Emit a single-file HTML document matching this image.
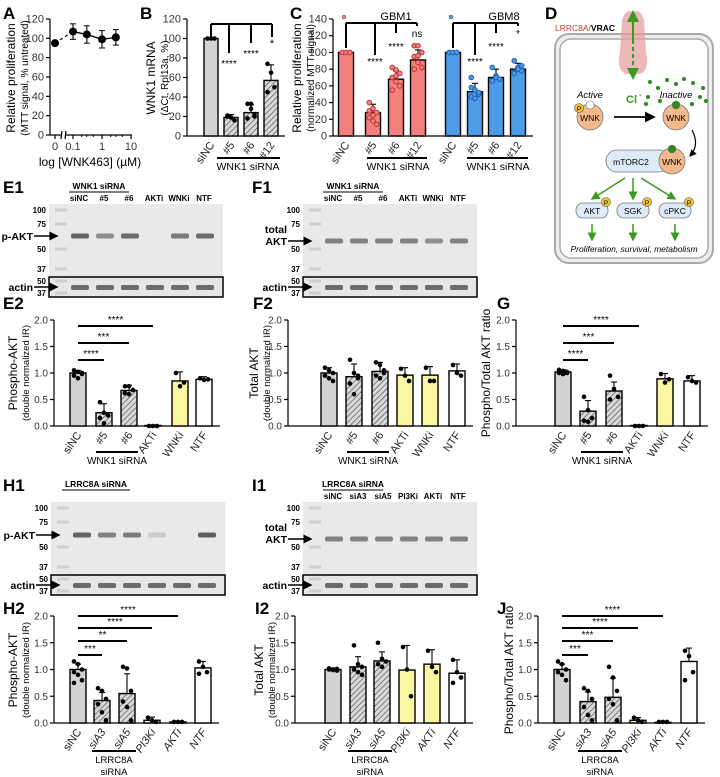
<!DOCTYPE html>
<html><head><meta charset="utf-8">
<style>
html,body{margin:0;padding:0;background:#fff;}
svg{display:block;font-family:"Liberation Sans",Arial,sans-serif;}
</style></head>
<body>
<svg id="fig" width="720" height="777" viewBox="0 0 720 777" xmlns="http://www.w3.org/2000/svg">
<defs>
<pattern id="hatch" patternUnits="userSpaceOnUse" width="4" height="4" patternTransform="rotate(45)">
<rect width="4" height="4" fill="#d9d9d9"/><line x1="0" y1="0" x2="0" y2="4" stroke="#555" stroke-width="1.4"/>
</pattern>
<marker id="ah" markerWidth="6" markerHeight="6" refX="5" refY="3" orient="auto"><path d="M0,0 L6,3 L0,6 z" fill="#000"/></marker>
<marker id="gh" markerWidth="6" markerHeight="6" refX="5" refY="3" orient="auto"><path d="M0,0 L6,3 L0,6 z" fill="#3a9a1e"/></marker>
</defs>
<g id="root"></g>
</svg>
<script>
// ---------- DATA ----------
// Panel A
const aConc = [0, 0.1, 0.3, 1, 3];
const aVals = [95, 107, 104, 99, 101];
const aErr = [0, 8, 9, 9, 8];
const aYTicks = [0, 20, 40, 60, 80, 100, 120];
// Panel B
const bCats = ["siNC", "#5", "#6", "#12"];
const bVals = [100, 19, 24, 57];
const bErr = [1, 3, 8, 16];
const bDots = [[100,100,100], [21,19,16,20], [33,33,22,18,28,20], [74,65,50,45]];
const bTicks = [0, 20, 40, 60, 80, 100, 120];
// Panel C
const cCats = ["siNC", "#5", "#6", "#12", "siNC", "#5", "#6", "#12"];
const cVals = [100, 28, 68, 91, 100, 53, 70, 80];
const cErr = [1, 10, 10, 12, 1, 10, 10, 7];
const cDots = [[100,100,100],[40,33,28,22,18,14,30,25],[82,79,75,70,65,60,55,72],[108,108,100,95,88,82,80,96],[100,100,100],[70,55,50,47,45,52,58],[82,72,68,66,70,68],[90,82,78,76,80,84,75]];
const cTicks = [0, 20, 40, 60, 80, 100, 120, 140];
// Panel E2
const e2Cats = ["siNC", "#5", "#6", "AKTi", "WNKi", "NTF"];
const e2Vals = [1.0, 0.25, 0.67, 0.01, 0.85, 0.88];
const e2Err = [0.05, 0.17, 0.1, 0.01, 0.17, 0.05];
const e2Dots = [[1.05,1.02,0.98,0.95,0.9,1.0],[0.45,0.25,0.2,0.15,0.05],[0.75,0.75,0.68,0.62,0.6],[0,0,0],[1.0,0.75,0.82],[0.9,0.87,0.88]];
// Panel F2
const f2Vals = [1.0, 0.93, 1.03, 0.96, 0.96, 1.04];
const f2Err = [0.1, 0.24, 0.17, 0.14, 0.16, 0.13];
const f2Dots = [[1.1,1.05,1.0,0.95,0.9,0.85],[1.25,1.0,0.9,0.8,0.6,0.95],[1.2,1.15,1.05,0.95,0.9,1.0],[1.08,0.95,0.85],[1.1,0.85,0.85],[1.15,1.0,0.95]];
// Panel G
const gVals = [1.02, 0.28, 0.66, 0.01, 0.89, 0.85];
const gErr = [0.04, 0.2, 0.17, 0.01, 0.1, 0.1];
const gDots = [[1.06,1.04,1.02,1.0,0.98,1.0],[0.55,0.3,0.15,0.1,0.08],[0.95,0.7,0.55,0.5],[0,0,0],[0.98,0.82,0.88],[0.92,0.85,0.82]];
// Panel H2
const h2Cats = ["siNC", "siA3", "siA5", "PI3Ki", "AKTi", "NTF"];
const h2Vals = [1.0, 0.42, 0.55, 0.05, 0.02, 1.03];
const h2Err = [0.1, 0.15, 0.37, 0.06, 0.01, 0.12];
const h2Dots = [[1.15,1.1,1.0,0.95,0.9,0.8,0.75],[0.65,0.6,0.45,0.35,0.2,0.05],[1.05,1.02,0.6,0.4,0.3,0.05],[0.1,0.05,0.02],[0.02,0.02,0.02],[1.15,1.05,0.95,0.92]];
// Panel I2
const i2Vals = [1.0, 1.05, 1.16, 0.99, 1.1, 0.93];
const i2Err = [0.03, 0.19, 0.17, 0.46, 0.27, 0.25];
const i2Dots = [[1.02,1.0,0.98,1.0,0.99,1.01],[1.45,1.1,1.05,1.0,0.95,0.9],[1.5,1.2,1.15,1.1,1.05],[1.42,1.0,0.5],[1.35,1.05,0.95],[1.18,0.95,0.85,0.75]];
// Panel J
const jVals = [1.0, 0.4, 0.48, 0.05, 0.01, 1.15];
const jErr = [0.1, 0.18, 0.36, 0.05, 0.01, 0.25];
const jDots = [[1.15,1.1,1.0,0.95,0.9,0.8],[0.65,0.6,0.45,0.3,0.15,0.05],[1.05,0.85,0.6,0.45,0.35,0.05],[0.1,0.05,0.02],[0.02,0.02,0.02],[1.35,1.25,0.95,0.8]];
const unitTicks = [0, 0.5, 1.0, 1.5, 2.0];

// ---------- HELPERS ----------
const NS = "http://www.w3.org/2000/svg";
const root = document.getElementById("root");
function mk(tag, attrs, parent, txt) {
  const e = document.createElementNS(NS, tag);
  for (const k in attrs) e.setAttribute(k, attrs[k]);
  if (txt !== undefined) e.textContent = txt;
  (parent || root).appendChild(e);
  return e;
}
function grp(name) {
  const g = mk("g", {});
  
  
  return g;
}
function label(g, x, y, s, size, opts) {
  opts = opts || {};
  const t = mk("text", {x: x, y: y, "font-size": size, "text-anchor": opts.anchor || "start", fill: opts.fill || "#000", "font-weight": opts.bold ? "bold" : "normal", "font-style": opts.italic ? "italic" : "normal"}, g, s);
  if (opts.rot) t.setAttribute("transform", "rotate(" + opts.rot + " " + x + " " + y + ")");
  
  
  return t;
}
function line(g, x1, y1, x2, y2, w, col) {
  return mk("line", {x1: x1, y1: y1, x2: x2, y2: y2, stroke: col || "#000", "stroke-width": w || 1}, g);
}
function yAxis(g, ax, y0, yTop, max, ticks, fmt, fs) {
  line(g, ax, y0, ax, yTop, 1.2);
  ticks.forEach(t => {
    const y = y0 - t / max * (y0 - yTop);
    line(g, ax - 4, y, ax, y, 1.2);
    label(g, ax - 6, y + 3.5, fmt(t), fs || 10.5, {anchor: "end", fill: "#333", name: 'y-tick-label'});
  });
}
function barChart(name, o) {
  const g = grp(name);
  const ys = v => o.y0 - v / o.max * (o.y0 - o.yTop);
  yAxis(g, o.ax, o.y0, o.yTop, o.max, o.ticks, o.fmt, o.fs);
  line(g, o.ax, o.y0, o.xs[o.xs.length - 1] + o.w, o.y0, 1.2);
  o.vals.forEach((v, i) => {
    const x = o.xs[i];
    const b = mk("rect", {x: x - o.w / 2, y: ys(v), width: o.w, height: Math.max(o.y0 - ys(v), 0.5), fill: o.fills[i], stroke: "#000", "stroke-width": 1.4}, g);
    
    
    const e = o.errs[i];
    line(g, x, ys(v), x, ys(v + e), 1.1);
    line(g, x - 3, ys(v + e), x + 3, ys(v + e), 1.1);
    (o.dots[i] || []).forEach((d, k) => {
      const dx = ((k % 3) - 1) * o.w * 0.25;
      const c = mk("circle", {cx: x + dx, cy: ys(d), r: 2.3, fill: o.dotFill ? o.dotFill[i] : "#000", stroke: o.dotStroke ? o.dotStroke[i] : "none", "stroke-width": 1}, g);
      
      
    });
    if (o.cats) label(g, x + 4, o.y0 + 9, o.cats[i], o.cfs || 11, {anchor: "end", rot: -55, italic: o.italicCats && o.italicCats[i], fill: "#222", name: 'x-tick-label'});
  });
  return {g: g, ys: ys};
}
function sigBar(g, x1, x2, y, stars) {
  line(g, x1, y, x2, y, 2);
  label(g, (x1 + x2) / 2, y - 3, stars, 10, {anchor: "middle", name: 'significance'});
}
const f1 = v => v.toFixed(1);
const f0 = v => String(v);

// ---------- PANEL A ----------
(function () {
  const g = grp("panel-a");
  label(g, 3, 19, "A", 17, {bold: true, name: 'panel-label'});
  const y0 = 135, yTop = 19, max = 120;
  const ys = v => y0 - v / max * (y0 - yTop);
  const xs = c => c === 0 ? 55 : 102 + 29 * Math.log10(c);
  yAxis(g, 50, y0, yTop, max, aYTicks, f0, 11);
  line(g, 50, y0, 61, y0, 1.2); line(g, 66, y0, 132, y0, 1.2);
  line(g, 61, y0 + 4, 62, y0 - 4, 1.2); line(g, 65, y0 + 4, 66, y0 - 4, 1.2);
  [[0, "0"], [0.1, "0.1"], [1, "1"], [10, "10"]].forEach(t => {
    line(g, xs(t[0]), y0, xs(t[0]), y0 + 4, 1.2);
    label(g, xs(t[0]), y0 + 15, t[1], 11, {anchor: "middle", fill: "#333", name: 'x-tick-label'});
  });
  [0.2, 0.3, 0.5, 2, 3, 5].forEach(t => line(g, xs(t), y0, xs(t), y0 + 2, 1));
  mk("line", {x1: xs(aConc[0]), y1: ys(aVals[0]), x2: xs(aConc[1]), y2: ys(aVals[1]), stroke: "#000", "stroke-width": 1.2, "stroke-dasharray": "3,3"}, g);
  let d = "";
  for (let i = 1; i < aConc.length; i++) d += (i === 1 ? "M" : "L") + xs(aConc[i]) + "," + ys(aVals[i]);
  mk("path", {d: d, fill: "none", stroke: "#000", "stroke-width": 1.3}, g);
  aConc.forEach((c, i) => {
    if (aErr[i]) { line(g, xs(c), ys(aVals[i] - aErr[i]), xs(c), ys(aVals[i] + aErr[i]), 1.1);
      line(g, xs(c) - 3, ys(aVals[i] + aErr[i]), xs(c) + 3, ys(aVals[i] + aErr[i]));
      line(g, xs(c) - 3, ys(aVals[i] - aErr[i]), xs(c) + 3, ys(aVals[i] - aErr[i])); }
    const p = mk("circle", {cx: xs(c), cy: ys(aVals[i]), r: 4, fill: "#000"}, g);
    
    
  });
  label(g, 15, 78, "Relative proliferation", 12, {anchor: "middle", rot: -90, name: 'y-axis-title'});
  label(g, 28, 78, "(MTT signal, % untreated)", 10, {anchor: "middle", rot: -90, name: 'y-axis-subtitle'});
  label(g, 90, 166, "log [WNK463] (µM)", 12, {anchor: "middle", name: 'x-axis-title'});
})();

// ---------- PANEL B ----------
(function () {
  const r = barChart("panel-b", {ax: 187, y0: 136, yTop: 19, max: 120, ticks: bTicks, fmt: f0, fs: 11, xs: [211, 231, 251, 271], w: 14, vals: bVals, errs: bErr, dots: bDots, fills: ["#d3d3d3", "url(#hatch)", "url(#hatch)", "url(#hatch)"], cats: bCats});
  const g = r.g;
  label(g, 140, 19, "B", 17, {bold: true, name: 'panel-label'});
  label(g, 155, 78, "WNK1 mRNA", 12, {anchor: "middle", rot: -90, name: 'y-axis-title'});
  label(g, 168, 78, "(ΔCt, Rpl13a, %)", 10, {anchor: "middle", rot: -90, name: 'y-axis-subtitle'});
  line(g, 211, 24, 272, 24, 2); line(g, 211, 24, 211, 37, 2);
  line(g, 229, 24, 229, 53, 2); line(g, 251, 24, 251, 43, 2); line(g, 272, 24, 272, 37, 2);
  label(g, 229, 67, "****", 10, {anchor: "middle", name: 'significance'});
  label(g, 251, 57, "****", 10, {anchor: "middle", name: 'significance'});
  label(g, 272, 47, "*", 11, {anchor: "middle", name: 'significance'});
  line(g, 217, 158, 280, 158, 2);
  label(g, 248, 170, "WNK1 siRNA", 10.5, {anchor: "middle", name: 'group-label'});
})();

// ---------- PANEL C ----------
(function () {
  const red = "#f47f7f", blue = "#4d9ce8";
  const r = barChart("panel-c", {ax: 333, y0: 136, yTop: 19, max: 140, ticks: cTicks, fmt: f0, fs: 11, xs: [346, 373, 396, 418, 453, 475, 496, 518], w: 15, vals: cVals, errs: cErr, dots: cDots, fills: [red, red, red, red, blue, blue, blue, blue], cats: cCats, dotFill: [red, red, red, red, blue, blue, blue, blue], dotStroke: ["#b33", "#b33", "#b33", "#b33", "#1a5fb0", "#1a5fb0", "#1a5fb0", "#1a5fb0"]});
  const g = r.g;
  label(g, 290, 19, "C", 17, {bold: true, name: 'panel-label'});
  label(g, 301, 78, "Relative proliferation", 12, {anchor: "middle", rot: -90, name: 'y-axis-title'});
  label(g, 314, 78, "(normalized MTT signal)", 10, {anchor: "middle", rot: -90, name: 'y-axis-subtitle'});
  [[346, 375, 396, 417, "GBM1", ["****", "****", "ns"], 388, red], [453, 475, 496, 518, "GBM8", ["****", "****", "*"], 496, blue]].forEach(s => {
    line(g, s[0], 23, s[3], 23, 2); line(g, s[0], 23, s[0], 48, 2);
    line(g, s[1], 23, s[1], 55, 2); line(g, s[2], 23, s[2], 33, 2); line(g, s[3], 23, s[3], 26, 2);
    label(g, s[1], 65, s[5][0], 10, {anchor: "middle", name: 'significance'});
    label(g, s[2], 50, s[5][1], 10, {anchor: "middle", name: 'significance'});
    label(g, s[3], 37, s[5][2], 10, {anchor: "middle", name: 'significance'});
    label(g, s[6] + 8, 20, s[4], 11, {anchor: "middle", name: 'group-title'});
    mk("circle", {cx: s[0] - 2, cy: 17, r: 2, fill: s[7], stroke: "#555", "stroke-width": 0.5}, g);
    line(g, s[1] - 8, 158, s[3] + 10, 158, 2);
    label(g, s[2] + 2, 170, "WNK1 siRNA", 10.5, {anchor: "middle", name: 'group-label'});
  });
})();

// ---------- PANEL D ----------
(function () {
  const g = grp("panel-d-diagram");
  label(g, 545, 19, "D", 17, {bold: true, name: 'panel-label'});
  mk("rect", {x: 555, y: 34, width: 158, height: 229, rx: 14, fill: "#ededed", stroke: "#aaa", "stroke-width": 2}, g);
  mk("rect", {x: 560, y: 39, width: 148, height: 219, rx: 11, fill: "#fff", stroke: "#aaa", "stroke-width": 1.5}, g);
  const t = mk("text", {x: 555, y: 31, "font-size": 8.5, "font-weight": "bold"}, g);
  
  
  mk("tspan", {fill: "#c0392b", "font-weight": "normal"}, t, "LRRC8A/");
  mk("tspan", {fill: "#000"}, t, "VRAC");
  mk("path", {d: "M622,20 Q626,8 633,12 Q640,8 644,20 L646,52 Q650,70 640,74 L626,74 Q616,70 620,52 Z", fill: "#e59a9a", opacity: 0.7}, g);
  line(g, 633, 40, 633, 12, 2, "#3a9a1e").setAttribute("marker-end", "url(#gh)");
  mk("line", {x1: 633, y1: 40, x2: 633, y2: 78, stroke: "#3a9a1e", "stroke-width": 2, "stroke-dasharray": "4,3", "marker-end": "url(#gh)"}, g);
  label(g, 626, 103, "Cl", 11, {bold: true, fill: "#3a9a1e", name: 'chloride-label'});
  label(g, 639, 97, "-", 8, {bold: true, fill: "#3a9a1e", name: 'chloride-charge'});
  [[650,82],[658,88],[667,80],[676,84],[684,79],[693,83],[703,88],[700,97],[706,101],[648,97],[660,101],[646,104],[692,104]].forEach(p => mk("circle", {cx: p[0], cy: p[1], r: 2, fill: "#2a8a1a"}, g));
  label(g, 590, 98, "Active", 9.5, {anchor: "middle", italic: true, name: 'active-label'});
  label(g, 676, 98, "Inactive", 9.5, {anchor: "middle", italic: true, name: 'inactive-label'});
  [[590, 117], [676, 117]].forEach((c, i) => {
    mk("circle", {cx: c[0], cy: c[1], r: 13, fill: "#f4b98a", stroke: "#777", "stroke-width": 0.8}, g);
    label(g, c[0], c[1] + 4, "WNK", 8.5, {anchor: "middle", name: 'wnk-label'});
    mk("circle", {cx: c[0], cy: c[1] - 12, r: 4, fill: i ? "#2a8a1a" : "#fff", stroke: "#777", "stroke-width": 0.6}, g);
  });
  mk("circle", {cx: 579, cy: 108, r: 4.5, fill: "#f2c22e", stroke: "#555", "stroke-width": 0.6}, g);
  label(g, 579, 111, "P", 6.5, {anchor: "middle", name: 'phospho'});
  line(g, 614, 117, 654, 117, 1.8).setAttribute("marker-end", "url(#ah)");
  mk("path", {d: "M692,130 Q700,145 690,156", fill: "none", stroke: "#000", "stroke-width": 1.2, "marker-end": "url(#ah)"}, g);
  mk("rect", {x: 606, y: 150, width: 64, height: 22, rx: 11, fill: "#dcebf7", stroke: "#777", "stroke-width": 0.8}, g);
  label(g, 631, 165, "mTORC2", 8.5, {anchor: "middle", name: 'mtorc2-label'});
  mk("circle", {cx: 672, cy: 161, r: 13, fill: "#f4b98a", stroke: "#777", "stroke-width": 0.8}, g);
  label(g, 672, 165, "WNK", 8.5, {anchor: "middle", name: 'wnk-label'});
  mk("circle", {cx: 672, cy: 149, r: 4, fill: "#2a8a1a", stroke: "#777", "stroke-width": 0.6}, g);
  [[592, "AKT"], [633, "SGK"], [675, "cPKC"]].forEach((k, i) => {
    mk("rect", {x: k[0] - 16, y: 203, width: 32, height: 15, rx: 7, fill: "#dcebf7", stroke: "#777", "stroke-width": 0.8}, g);
    label(g, k[0], 214, k[1], 8.5, {anchor: "middle", name: 'kinase-label'});
    mk("circle", {cx: k[0] + 14, cy: 202, r: 4.5, fill: "#f2c22e", stroke: "#555", "stroke-width": 0.6}, g);
    label(g, k[0] + 14, 205, "P", 6.5, {anchor: "middle", name: 'phospho'});
    line(g, [625, 633, 641][i], 178, k[0], 199, 1.5, "#3a9a1e").setAttribute("marker-end", "url(#gh)");
    line(g, k[0], 224, k[0], 240, 1.5, "#3a9a1e").setAttribute("marker-end", "url(#gh)");
  });
  label(g, 634, 252, "Proliferation, survival, metabolism", 8.5, {anchor: "middle", italic: true, name: 'outcome-label'});
})();

// ---------- BLOTS ----------
function blot(name, o) {
  const g = grp(name);
  const X = o.x, Y = o.y;
  label(g, X + o.tx, Y + 3, o.title, 8.5, {anchor: "middle", bold: true, name: 'blot-title'});
  line(g, X + o.tx - o.tw / 2, Y + 6, X + o.tx + o.tw / 2, Y + 6, 1);
  o.lanes.forEach((l, i) => label(g, X + 30 + i * 25, Y + 15, l, 8, {anchor: "middle", bold: true, name: 'lane-label'}));
  mk("rect", {x: X, y: Y + 18, width: 174, height: 73, fill: "#e9e9e9"}, g);
  mk("rect", {x: X, y: Y + 91, width: 174, height: 20, fill: "#e6e6e6", stroke: "#000", "stroke-width": 1.5}, g);
  [[24, "100"], [38, "75"], [63, "50"], [83, "37"], [95, "50"], [107, "37"]].forEach(m => {
    mk("rect", {x: X + 6, y: Y + m[0] - 1.5, width: 12, height: 3, fill: "#cfcfcf"}, g);
    label(g, X - 3, Y + m[0] + 3, m[1], 8, {anchor: "end", bold: true, name: 'marker-label'});
  });
  o.bands.forEach((b, i) => { if (b > 0) mk("rect", {x: X + 22 + i * 25, y: Y + o.by - 2.5, width: 18, height: 5, rx: 2, fill: "#555", opacity: b}, g); });
  for (let i = 0; i < 6; i++) mk("rect", {x: X + 22 + i * 25, y: Y + 99, width: 18, height: 5, rx: 2, fill: "#555", opacity: 0.85}, g);
  line(g, X - 15, Y + o.by, X + 8, Y + o.by, 1.5).setAttribute("marker-end", "url(#ah)");
  o.tlabel.forEach((s, k) => label(g, X - 16, Y + o.by + 4 - (o.tlabel.length - 1 - k) * 12, s, 10.5, {anchor: "end", bold: true, name: 'band-label'}));
  line(g, X - 15, Y + 101, X + 8, Y + 101, 1.5).setAttribute("marker-end", "url(#ah)");
  label(g, X - 16, Y + 105, "actin", 10.5, {anchor: "end", bold: true, name: 'band-label'});
}
blot("panel-e1", {x: 49, y: 186, title: "WNK1 siRNA", tx: 50, tw: 60, lanes: ["siNC", "#5", "#6", "AKTi", "WNKi", "NTF"], bands: [0.9, 0.6, 0.85, 0, 0.75, 0.85], by: 50, tlabel: ["p-AKT"]});
blot("panel-f1", {x: 303, y: 186, title: "WNK1 siRNA", tx: 50, tw: 60, lanes: ["siNC", "#5", "#6", "AKTi", "WNKi", "NTF"], bands: [0.7, 0.7, 0.7, 0.7, 0.6, 0.7], by: 55, tlabel: ["total", "AKT"]});
blot("panel-h1", {x: 51, y: 484, title: "LRRC8A siRNA", tx: 45, tw: 68, lanes: ["", "", "", "", "", ""], bands: [0.9, 0.7, 0.75, 0.2, 0, 0.95], by: 51, tlabel: ["p-AKT"]});
blot("panel-i1", {x: 303, y: 484, title: "LRRC8A siRNA", tx: 50, tw: 60, lanes: ["siNC", "siA3", "siA5", "PI3Ki", "AKTi", "NTF"], bands: [0.7, 0.7, 0.7, 0.7, 0.7, 0.7], by: 55, tlabel: ["total", "AKT"]});
label(root, 3, 193, "E1", 17, {bold: true, name: 'panel-label'});
label(root, 252, 193, "F1", 17, {bold: true, name: 'panel-label'});
label(root, 3, 491, "H1", 17, {bold: true, name: 'panel-label'});
label(root, 252, 491, "I1", 17, {bold: true, name: 'panel-label'});

// ---------- ROW E2/F2/G ----------
const Y = "#fbf7a0", GR = "#d3d3d3", H = "url(#hatch)", W = "#fff";
const fillsE = [GR, H, H, Y, Y, W];
(function () {
  const o = {y0: 426, yTop: 320, max: 2, ticks: unitTicks, fmt: f1, fs: 10, w: 16, cats: e2Cats, fills: fillsE};
  const e = barChart("panel-e2", Object.assign({}, o, {ax: 54, xs: [78, 104, 129, 153, 180, 204], vals: e2Vals, errs: e2Err, dots: e2Dots}));
  label(e.g, 3, 309, "E2", 17, {bold: true, name: 'panel-label'});
  label(e.g, 17, 373, "Phospho-AKT", 12, {anchor: "middle", rot: -90, name: 'y-axis-title'});
  label(e.g, 29, 373, "(double normalized IR)", 9.5, {anchor: "middle", rot: -90, name: 'y-axis-subtitle'});
  sigBar(e.g, 78, 153, 326, "****"); sigBar(e.g, 78, 129, 343, "***"); sigBar(e.g, 78, 104, 360, "****");
  line(e.g, 96, 452, 138, 452, 2); label(e.g, 117, 464, "WNK1 siRNA", 10, {anchor: "middle", name: 'group-label'});
  const f = barChart("panel-f2", Object.assign({}, o, {ax: 288, xs: [329, 354, 380, 405, 430, 457], vals: f2Vals, errs: f2Err, dots: f2Dots}));
  label(f.g, 253, 309, "F2", 17, {bold: true, name: 'panel-label'});
  label(f.g, 258, 373, "Total AKT", 12, {anchor: "middle", rot: -90, name: 'y-axis-title'});
  label(f.g, 270, 373, "(double normalized IR)", 9.5, {anchor: "middle", rot: -90, name: 'y-axis-subtitle'});
  line(f.g, 347, 452, 389, 452, 2); label(f.g, 368, 464, "WNK1 siRNA", 10, {anchor: "middle", name: 'group-label'});
  const gg = barChart("panel-g", Object.assign({}, o, {ax: 516, xs: [563, 588, 614, 639, 665, 692], vals: gVals, errs: gErr, dots: gDots}));
  label(gg.g, 497, 309, "G", 17, {bold: true, name: 'panel-label'});
  label(gg.g, 490, 373, "Phospho/Total AKT ratio", 12, {anchor: "middle", rot: -90, name: 'y-axis-title'});
  sigBar(gg.g, 563, 639, 326, "****"); sigBar(gg.g, 563, 614, 343, "***"); sigBar(gg.g, 563, 588, 360, "****");
  line(gg.g, 581, 452, 623, 452, 2); label(gg.g, 602, 464, "WNK1 siRNA", 10, {anchor: "middle", name: 'group-label'});
})();

// ---------- ROW H2/I2/J ----------
(function () {
  const it = [false, true, true, true, true, true];
  const o = {y0: 723, yTop: 616, max: 2, ticks: unitTicks, fmt: f1, fs: 10, w: 16, cats: h2Cats, fills: fillsE, italicCats: it};
  function grpLbl(g, x) { line(g, x - 22, 751, x + 22, 751, 2); label(g, x, 763, "LRRC8A", 9.5, {anchor: "middle", name: 'group-label'}); label(g, x, 775, "siRNA", 9.5, {anchor: "middle", name: 'group-label'}); }
  const h = barChart("panel-h2", Object.assign({}, o, {ax: 54, xs: [78, 102, 127, 152, 178, 203], vals: h2Vals, errs: h2Err, dots: h2Dots}));
  label(h.g, 3, 614, "H2", 17, {bold: true, name: 'panel-label'});
  label(h.g, 17, 670, "Phospho-AKT", 12, {anchor: "middle", rot: -90, name: 'y-axis-title'});
  label(h.g, 29, 670, "(double normalized IR)", 9.5, {anchor: "middle", rot: -90, name: 'y-axis-subtitle'});
  sigBar(h.g, 78, 178, 616, "****"); sigBar(h.g, 78, 152, 628, "****"); sigBar(h.g, 78, 127, 641, "**"); sigBar(h.g, 78, 102, 655, "***");
  grpLbl(h.g, 114);
  const i = barChart("panel-i2", Object.assign({}, o, {ax: 295, xs: [333, 358, 382, 407, 432, 457], vals: i2Vals, errs: i2Err, dots: i2Dots}));
  label(i.g, 255, 614, "I2", 17, {bold: true, name: 'panel-label'});
  label(i.g, 263, 670, "Total AKT", 12, {anchor: "middle", rot: -90, name: 'y-axis-title'});
  label(i.g, 275, 670, "(double normalized IR)", 9.5, {anchor: "middle", rot: -90, name: 'y-axis-subtitle'});
  grpLbl(i.g, 370);
  const j = barChart("panel-j", Object.assign({}, o, {ax: 538, xs: [562, 588, 613, 638, 663, 689], vals: jVals, errs: jErr, dots: jDots}));
  label(j.g, 497, 614, "J", 17, {bold: true, name: 'panel-label'});
  label(j.g, 513, 670, "Phospho/Total AKT ratio", 12, {anchor: "middle", rot: -90, name: 'y-axis-title'});
  sigBar(j.g, 562, 663, 616, "****"); sigBar(j.g, 562, 638, 628, "****"); sigBar(j.g, 562, 613, 641, "***"); sigBar(j.g, 562, 588, 655, "***");
  grpLbl(j.g, 600);
})();
</script>
</body></html>
